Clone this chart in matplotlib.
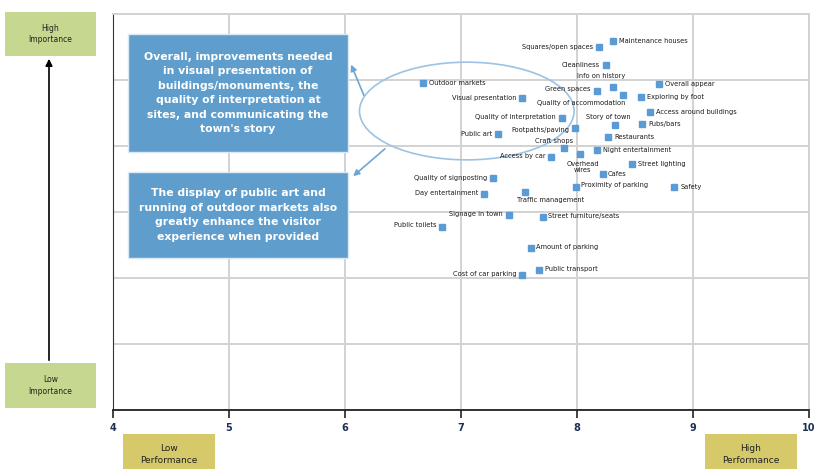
import matplotlib
matplotlib.use("Agg")
import matplotlib.pyplot as plt
from matplotlib.patches import Ellipse, Rectangle, FancyArrowPatch

# performance (x) and importance (y) scores for each town attribute
labels = [
    "Maintenance houses", "Squares/open spaces", "Cleanliness", "Info on history",
    "Overall appear", "Green spaces", "Quality of accommodation", "Exploring by foot",
    "Outdoor markets", "Visual presentation", "Access around buildings",
    "Quality of interpretation", "Story of town", "Pubs/bars", "Footpaths/paving",
    "Public art", "Restaurants", "Craft shops", "Night entertainment", "Access by car",
    "Overhead\nwires", "Street lighting", "Cafes", "Quality of signposting",
    "Proximity of parking", "Safety", "Day entertainment", "Traffic management",
    "Signage in town", "Street furniture/seats", "Public toilets", "Amount of parking",
    "Public transport", "Cost of car parking",
]
performance = [
    8.31, 8.19, 8.25, 8.31, 8.71, 8.17, 8.40, 8.55, 6.67, 7.53, 8.63,
    7.87, 8.33, 8.56, 7.98, 7.32, 8.27, 7.89, 8.17, 7.78, 8.03, 8.47,
    8.22, 7.28, 7.99, 8.84, 7.20, 7.55, 7.41, 7.71, 6.84, 7.60, 7.67, 7.53,
]
importance = [
    9.59, 9.50, 9.23, 8.89, 8.94, 8.83, 8.77, 8.74, 8.95, 8.73, 8.52,
    8.42, 8.32, 8.33, 8.27, 8.18, 8.14, 7.97, 7.94, 7.83, 7.88, 7.73,
    7.58, 7.52, 7.38, 7.38, 7.27, 7.30, 6.95, 6.92, 6.77, 6.45, 6.12, 6.05,
]

# label placement: (dx, dy) in pixels and horizontal alignment
label_pos = [
    (6, 0, "left"), (-6, 0, "right"), (-6, 0, "right"), (12, 11, "right"),
    (6, 0, "left"), (-6, 2, "right"), (2, -8, "right"), (6, 0, "left"),
    (6, 0, "left"), (-6, 0, "right"), (6, 0, "left"),
    (-6, 1, "right"), (15, 8, "right"), (6, 0, "left"), (-5, -2, "right"),
    (-6, 0, "right"), (6, 0, "left"), (9, 7, "right"), (6, 0, "left"), (-6, 1, "right"),
    (2, -13, "center"), (6, 0, "left"), (5, 0, "left"), (-6, 0, "right"),
    (5, 2, "left"), (6, 0, "left"), (-6, 1, "right"), (-8, -8, "left"),
    (-6, 1, "right"), (5, 1, "left"), (-6, 2, "right"), (5, 1, "left"),
    (6, 1, "left"), (-6, 1, "right"),
]

W, H = 814, 469
fig = plt.figure(figsize=(W / 100, H / 100), dpi=100)
ax = fig.add_axes([113 / W, 59 / H, 696 / W, 396 / H])

ax.set_xlim(4, 10)
ax.set_ylim(4, 10)
ax.set_xticks(range(4, 11))
ax.set_yticks(range(4, 11))
ax.set_yticklabels([])
ax.tick_params(axis="y", length=0)
ax.set_yticks([10], minor=True)
ax.tick_params(axis="y", which="minor", direction="in", length=5, color="#333333")
ax.tick_params(axis="x", direction="out", length=6, width=1.2, color="#222222",
               labelsize=7, labelcolor="#1f2f55", pad=3)
for t in ax.get_xticklabels():
    t.set_fontweight("bold")
ax.grid(True, color="#d2d2d2", linewidth=1.4)
ax.set_axisbelow(True)
for side in ("top", "right"):
    ax.spines[side].set_color("#d2d2d2")
    ax.spines[side].set_linewidth(1.4)
ax.spines["left"].set_color("#333333")
ax.spines["bottom"].set_color("#222222")
ax.spines["bottom"].set_linewidth(1.3)

ax.plot(performance, importance, "s", color="#5b9bd5", markersize=5, zorder=3)
for name, x, y, (dx, dy, ha) in zip(labels, performance, importance, label_pos):
    ax.annotate(name, (x, y), xytext=(dx, dy), textcoords="offset pixels",
                ha=ha, va="center", fontsize=4.8, color="#1a1a1a",
                linespacing=1.0, zorder=4)

# highlight ellipse around the poorly performing presentation items
ax.add_patch(Ellipse((7.05, 8.53), 1.85, 1.48, fill=False,
                     edgecolor="#9cc3e3", linewidth=1.2, zorder=2))


def fig_box(x0, y0, x1, y1, color, text, tcolor, size, weight="normal",
            edge="none", spacing=1.3):
    r = Rectangle((x0 / W, 1 - y1 / H), (x1 - x0) / W, (y1 - y0) / H,
                  transform=fig.transFigure, facecolor=color, edgecolor=edge,
                  linewidth=1.0, zorder=5)
    fig.add_artist(r)
    fig.text((x0 + x1) / 2 / W, 1 - (y0 + y1) / 2 / H, text, ha="center",
             va="center", color=tcolor, fontsize=size, fontweight=weight,
             linespacing=spacing, zorder=6)


callout1 = ("Overall, improvements needed\nin visual presentation of\n"
            "buildings/monuments, the\nquality of interpretation at\n"
            "sites, and communicating the\ntown's story")
callout2 = ("The display of public art and\nrunning of outdoor markets also\n"
            "greatly enhance the visitor\nexperience when provided")
fig_box(128, 34, 348, 152, "#5f9ecc", callout1, "white", 7.8, "bold", "#dbe9f4", 1.55)
fig_box(128, 172, 348, 258, "#5f9ecc", callout2, "white", 7.8, "bold", "#dbe9f4", 1.55)

# arrows from the ellipse to the callouts
arrow_kw = dict(arrowstyle="-|>", color="#6fa6d3", lw=1.2, mutation_scale=9)
fig.add_artist(FancyArrowPatch((365 / W, 1 - 98 / H), (350 / W, 1 - 62 / H),
                               transform=fig.transFigure, **arrow_kw))
fig.add_artist(FancyArrowPatch((387 / W, 1 - 147 / H), (351 / W, 1 - 178 / H),
                               transform=fig.transFigure, **arrow_kw))

# importance scale on the left
fig.add_artist(FancyArrowPatch((49 / W, 1 - 363 / H), (49 / W, 1 - 56 / H),
                               transform=fig.transFigure, arrowstyle="-|>",
                               color="black", lw=1.2, mutation_scale=10))
fig_box(5, 12, 96, 56, "#c6d88f", "High\nImportance", "#222222", 5.5)
fig_box(5, 363, 96, 408, "#c6d88f", "Low\nImportance", "#222222", 5.5)

# performance scale at the bottom
fig_box(123, 434, 215, 475, "#d5c96a", "Low\nPerformance", "#222222", 6.5)
fig_box(705, 434, 797, 475, "#d5c96a", "High\nPerformance", "#222222", 6.5)

fig.savefig("out.png", dpi=100)
